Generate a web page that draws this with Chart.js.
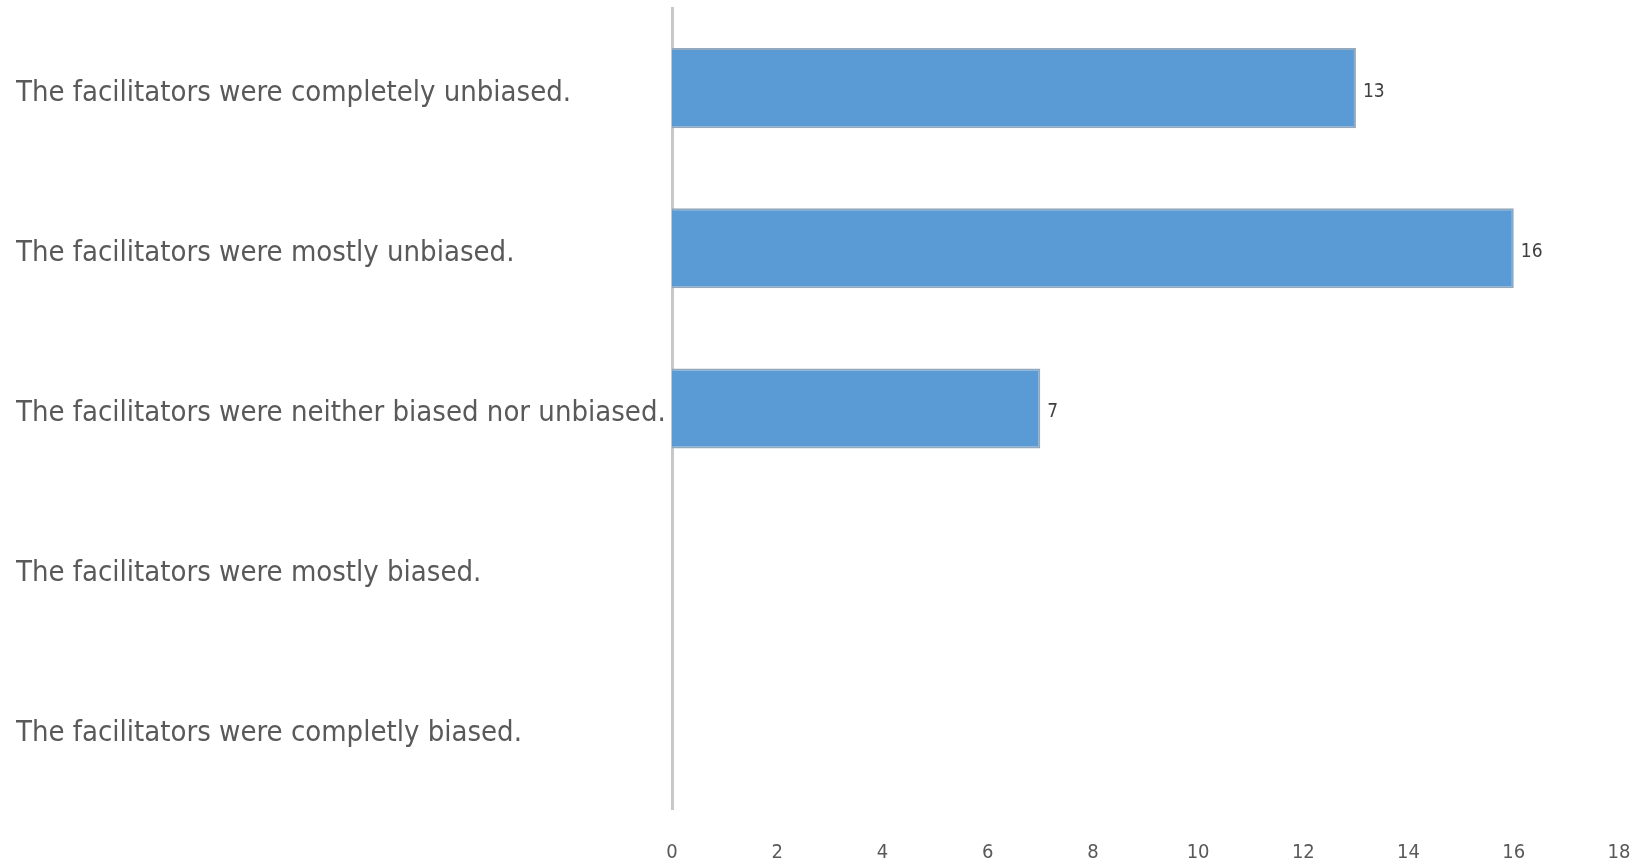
<!DOCTYPE html>
<html>
<head>
<meta charset="utf-8">
<title>Facilitator bias</title>
<script src="https://cdn.jsdelivr.net/npm/chart.js@4/dist/chart.umd.min.js"></script>
<style>
  html, body { margin: 0; padding: 0; background: #fff; overflow: hidden; }
  #wrap { width: 1647px; height: 862px; }
</style>
</head>
<body>
<div id="wrap"><canvas id="chartbias"></canvas></div>
<script>
// survey answers, top to bottom
var answers = [
    'The facilitators were completely unbiased.',
    'The facilitators were mostly unbiased.',
    'The facilitators were neither biased nor unbiased.',
    'The facilitators were mostly biased.',
    'The facilitators were completly biased.'
];
var counts = [13, 16, 7, 0, 0];
var xTicks = [0, 2, 4, 6, 8, 10, 12, 14, 16, 18];

var fontName = '"DejaVu Sans Condensed", "Liberation Sans Narrow", sans-serif';

/* value labels at the end of each bar */
var barValues = {
    id: 'barValues',
    afterDatasetsDraw: function (chart) {
        var ctx = chart.ctx;
        var meta = chart.getDatasetMeta(0);
        ctx.save();
        ctx.font = '19px ' + fontName;
        ctx.fillStyle = '#404040';
        ctx.textAlign = 'left';
        ctx.textBaseline = 'middle';
        meta.data.forEach(function (bar, i) {
            var v = chart.data.datasets[0].data[i];
            if (!v) return;
            ctx.fillText(v, bar.x + 7, bar.y + 4);
        });
        ctx.restore();
    }
};

var ctx = document.getElementById('chartbias');
var biasChart = new Chart(ctx, {
    type: 'bar',
    data: {
        labels: answers,
        datasets: [{
            data: counts,
            backgroundColor: '#5b9bd5',
            borderColor: '#93a9bd',
            borderWidth: 2,
            borderSkipped: 'left',
            barPercentage: 0.5,
            categoryPercentage: 1
        }]
    },
    options: {
        indexAxis: 'y',
        responsive: true,
        maintainAspectRatio: false,
        animation: false,
        layout: { padding: { left: 16, right: 28, top: 8, bottom: 0 } },
        plugins: {
            legend: { display: false },
            tooltip: { enabled: false }
        },
        scales: {
            x: {
                min: 0,
                max: 18,
                afterBuildTicks: function (axis) {
                    axis.ticks = xTicks.map(function (v) { return { value: v }; });
                },
                afterFit: function (axis) {
                    axis.height = 53;
                    axis.paddingLeft = 0;
                    axis.paddingRight = 0;
                },
                grid: { display: false },
                border: { display: false },
                ticks: {
                    padding: 24,
                    color: '#595959',
                    font: { family: fontName, size: 20 }
                }
            },
            y: {
                afterFit: function (axis) {
                    axis.width = 656;
                    axis.paddingTop = 0;
                    axis.paddingBottom = 0;
                },
                grid: { display: false, drawTicks: false },
                border: { display: true, color: '#c8c8c8', width: 3 },
                ticks: {
                    crossAlign: 'far',
                    padding: 8,
                    labelOffset: 5,
                    color: '#595959',
                    font: { family: fontName, size: 29 }
                }
            }
        }
    },
    plugins: [barValues]
});
</script>
</body>
</html>
